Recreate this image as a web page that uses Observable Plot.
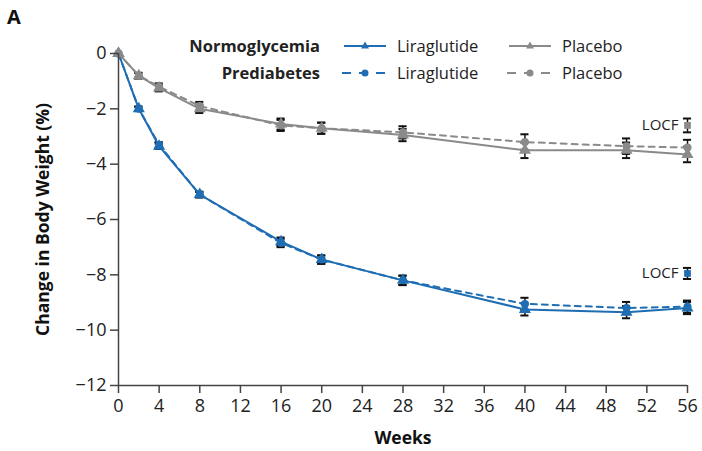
<!DOCTYPE html>
<html><head><meta charset="utf-8">
<script src="https://cdn.jsdelivr.net/npm/d3@7"></script>
<script src="https://cdn.jsdelivr.net/npm/@observablehq/plot@0.6"></script>
<style>
body{margin:0;background:#fff;font-family:"Open Sans",Lato,sans-serif;}
#wrap{position:relative;width:702px;height:451px;}
#panel{position:absolute;left:7px;top:3px;font-weight:700;font-size:20px;color:#111;}
#legend{position:absolute;left:120px;top:32px;font-size:16.5px;color:#222;}
#legend .row{display:flex;align-items:center;height:27px;}
#legend .grp{width:200px;text-align:right;font-weight:700;margin-right:22px;}
#legend .lab{width:110px;}
</style></head><body>
<div id="wrap"><div id="panel">A</div><div id="chart"></div><div id="legend"></div></div>
<script>
const weeks = [0, 2, 4, 8, 16, 20, 28, 40, 50, 56];
const liraNormo   = [0, -2.0, -3.35, -5.1, -6.8, -7.45, -8.2, -9.25, -9.35, -9.2];
const liraPre     = [0, -2.0, -3.3, -5.1, -6.85, -7.45, -8.2, -9.05, -9.2, -9.15];
const placNormo   = [0, -0.8, -1.25, -2.0, -2.55, -2.7, -2.95, -3.5, -3.5, -3.65];
const placPre     = [0, -0.8, -1.2, -1.9, -2.6, -2.7, -2.85, -3.2, -3.35, -3.4];
const errLira     = [0, 0.08, 0.1, 0.1, 0.15, 0.15, 0.17, 0.22, 0.22, 0.22];
const errPlac     = [0, 0.1, 0.12, 0.15, 0.2, 0.2, 0.22, 0.28, 0.28, 0.28];
const locfWeek = 56;
const locfLira = -7.95;
const locfPlac = -2.6;
const locfErr = 0.2;
const xTicks = d3.range(0, 57, 4);
const yTicks = [0, -2, -4, -6, -8, -10, -12];

const BLUE = "#1f6db3", GRAY = "#8a8a8a";
const series = [
  {key:"Normoglycemia Liraglutide", vals: liraNormo, err: errLira, color: BLUE, dash: null, sym: "triangle"},
  {key:"Prediabetes Liraglutide", vals: liraPre, err: errLira, color: BLUE, dash: "6,5", sym: "circle"},
  {key:"Normoglycemia Placebo", vals: placNormo, err: errPlac, color: GRAY, dash: null, sym: "triangle"},
  {key:"Prediabetes Placebo", vals: placPre, err: errPlac, color: GRAY, dash: "6,5", sym: "circle"}
];
const rows = series.flatMap(s => weeks.map((w,i) => ({key:s.key, w, v:s.vals[i], e:s.err[i], color:s.color, dash:s.dash, sym:s.sym})));
const locf = [{w:locfWeek, v:locfLira, e:locfErr, color:BLUE}, {w:locfWeek, v:locfPlac, e:locfErr+0.05, color:GRAY}];
const cap = 0.4;

const marks = [];
marks.push(Plot.ruleX(rows.filter(d=>d.e>0), {x:"w", y1:d=>d.v-d.e, y2:d=>d.v+d.e, stroke:"#111", strokeWidth:1.5}));
marks.push(Plot.ruleY(rows.filter(d=>d.e>0), {y:d=>d.v-d.e, x1:d=>d.w-cap, x2:d=>d.w+cap, stroke:"#111", strokeWidth:2}));
marks.push(Plot.ruleY(rows.filter(d=>d.e>0), {y:d=>d.v+d.e, x1:d=>d.w-cap, x2:d=>d.w+cap, stroke:"#111", strokeWidth:2}));
marks.push(Plot.ruleX(locf, {x:"w", y1:d=>d.v-d.e, y2:d=>d.v+d.e, stroke:"#111", strokeWidth:1.5}));
marks.push(Plot.ruleY(locf, {y:d=>d.v-d.e, x1:d=>d.w-cap, x2:d=>d.w+cap, stroke:"#111", strokeWidth:2}));
marks.push(Plot.ruleY(locf, {y:d=>d.v+d.e, x1:d=>d.w-cap, x2:d=>d.w+cap, stroke:"#111", strokeWidth:2}));
for (const s of series) {
  const data = rows.filter(d=>d.key===s.key);
  marks.push(Plot.line(data, {x:"w", y:"v", stroke:s.color, strokeWidth:2, strokeDasharray:s.dash || undefined}));
  marks.push(Plot.dot(data, {x:"w", y:"v", fill:s.color, symbol:s.sym, r:s.sym==="triangle"?4.5:4, stroke:null}));
}
marks.push(Plot.dot(locf, {x:"w", y:"v", fill:d=>d.color, symbol:"square", r:3.8}));
marks.push(Plot.text(locf, {x:"w", y:"v", text:()=>"LOCF", textAnchor:"end", dx:-9, fontSize:15, fill:"#222"}));
marks.push(Plot.ruleX([0], {stroke:"#444", strokeWidth:1.5}));
marks.push(Plot.ruleY([-12], {stroke:"#444", strokeWidth:1.5}));
marks.push(Plot.axisX({ticks:xTicks, tickSize:8, tickPadding:6, stroke:"#444", strokeWidth:1.5, fontSize:18, fill:"#222",
  label:"Weeks", labelAnchor:"center", labelArrow:"none", labelOffset:58}));
marks.push(Plot.axisY({ticks:yTicks, tickSize:8, tickPadding:4, stroke:"#444", strokeWidth:1.5, fontSize:18, fill:"#222",
  tickFormat:d=>d<0?"\u2212"+Math.abs(d):String(d),
  label:"Change in Body Weight (%)", labelAnchor:"center", labelArrow:"none", labelOffset:82}));

const chart = Plot.plot({
  width:702, height:451,
  marginLeft:118, marginRight:15, marginTop:53, marginBottom:66,
  x:{domain:[0,56]},
  y:{domain:[-12,0]},
  style:{fontFamily:"'Open Sans', Lato, sans-serif", background:"#fff", fontSize:"18px"},
  marks
});
chart.querySelectorAll('g[aria-label="x-axis label"], g[aria-label="y-axis label"]').forEach(g=>{
  g.setAttribute("font-weight","700"); g.setAttribute("font-size","17.5"); g.setAttribute("fill","#111");
});
document.getElementById("chart").appendChild(chart);

const leg = [
  ["Normoglycemia", [["Liraglutide", BLUE, null, "tri"], ["Placebo", GRAY, null, "tri"]]],
  ["Prediabetes", [["Liraglutide", BLUE, "6,5", "circ"], ["Placebo", GRAY, "6,5", "circ"]]]
];
const L = document.getElementById("legend");
for (const [g, items] of leg) {
  const row = document.createElement("div"); row.className="row";
  const gd = document.createElement("div"); gd.className="grp"; gd.textContent=g; row.appendChild(gd);
  for (const [lab, col, dash, sym] of items) {
    const ns="http://www.w3.org/2000/svg";
    const sv=document.createElementNS(ns,"svg"); sv.setAttribute("width","46"); sv.setAttribute("height","12");
    sv.style.marginRight="9px";
    const ln=document.createElementNS(ns,"line");
    ln.setAttribute("x1","2");ln.setAttribute("x2","44");ln.setAttribute("y1","6");ln.setAttribute("y2","6");
    ln.setAttribute("stroke",col);ln.setAttribute("stroke-width","2");
    if(dash){ln.setAttribute("stroke-dasharray","9,8");ln.setAttribute("x1","0");}
    sv.appendChild(ln);
    if(sym==="tri"){const p=document.createElementNS(ns,"path");p.setAttribute("d","M23,1.5 L27,8.5 L19,8.5Z");p.setAttribute("fill",col);sv.appendChild(p);}
    else{const c=document.createElementNS(ns,"circle");c.setAttribute("cx","23");c.setAttribute("cy","6");c.setAttribute("r","3.5");c.setAttribute("fill",col);sv.appendChild(c);}
    row.appendChild(sv);
    const ld=document.createElement("div"); ld.className="lab"; ld.textContent=lab; row.appendChild(ld);
  }
  L.appendChild(row);
}
</script></body></html>
